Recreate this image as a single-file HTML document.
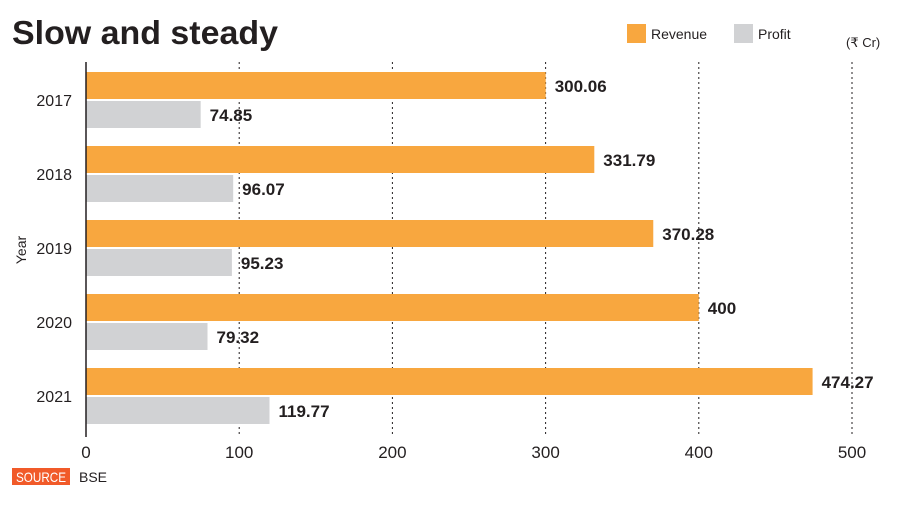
<!DOCTYPE html>
<html><head><meta charset="utf-8"><style>
body{margin:0;background:#fff;font-family:"Liberation Sans",sans-serif;}
svg text{font-family:"Liberation Sans",sans-serif;}
</style></head><body>
<svg width="900" height="501" viewBox="0 0 900 501" xmlns="http://www.w3.org/2000/svg" id="chart">
<text x="12" y="44" font-size="33" font-weight="bold" fill="#231f20" textLength="266" lengthAdjust="spacingAndGlyphs">Slow and steady</text>
<g>
<rect x="627" y="24" width="19" height="19" fill="#f8a73f"/>
<text x="651" y="39" font-size="14" fill="#231f20">Revenue</text>
<rect x="734" y="24" width="19" height="19" fill="#d1d2d4"/>
<text x="758" y="39" font-size="14" fill="#231f20">Profit</text>
</g>
<text x="846" y="47" font-size="13" fill="#231f20">(₹ Cr)</text>
<g id="grid"></g><g id="bars"></g>
<line x1="86" y1="62" x2="86" y2="437" stroke="#231f20" stroke-width="1.5"/>
<text transform="translate(26,250) rotate(-90)" text-anchor="middle" font-size="14" fill="#231f20">Year</text>
<rect x="12" y="468" width="58" height="17" fill="#f15a29"/>
<text x="16" y="482" font-size="14" fill="#fff" textLength="50" lengthAdjust="spacingAndGlyphs">SOURCE</text>
<text x="79" y="482" font-size="14" fill="#231f20">BSE</text>
</svg>
<script>
const years=["2017","2018","2019","2020","2021"];
const revenue=[300.06,331.79,370.28,400,474.27];
const profit=[74.85,96.07,95.23,79.32,119.77];
const revLabels=["300.06","331.79","370.28","400","474.27"];
const profLabels=["74.85","96.07","95.23","79.32","119.77"];
const ticks=[0,100,200,300,400,500];
const NS="http://www.w3.org/2000/svg";
const x=v=>86+v*1.532;
const yg=i=>72+i*74;
function mk(t,a,p){const e=document.createElementNS(NS,t);for(const k in a)e.setAttribute(k,a[k]);p.appendChild(e);return e;}
const grid=document.getElementById('grid'),bars=document.getElementById('bars'),svg=document.getElementById('chart');
ticks.forEach(t=>{
 if(t>0){const l=mk('line',{x1:x(t),x2:x(t),y1:62,y2:437,stroke:'#231f20','stroke-width':1,'stroke-dasharray':'2,3'},grid);
 
 }
 const tx=mk('text',{x:x(t),y:458,'text-anchor':'middle','font-size':17,fill:'#231f20'},svg);
 tx.textContent=t;
 
 
});
years.forEach((yr,i)=>{
 const y0=yg(i);
 const r=mk('rect',{x:86,y:y0,width:x(revenue[i])-86,height:27,fill:'#f8a73f'},bars);
 
 
 const p=mk('rect',{x:86,y:y0+29,width:x(profit[i])-86,height:27,fill:'#d1d2d4'},bars);
 
 
 const rl=mk('text',{x:x(revenue[i])+9,y:y0+20,'font-size':17,'font-weight':'bold',fill:'#231f20'},bars);
 rl.textContent=revLabels[i];
 
 
 const pl=mk('text',{x:x(profit[i])+9,y:y0+49,'font-size':17,'font-weight':'bold',fill:'#231f20'},bars);
 pl.textContent=profLabels[i];
 
 
 const yl=mk('text',{x:72,y:y0+34,'text-anchor':'end','font-size':16,fill:'#231f20'},svg);
 yl.textContent=yr;
 
 
});
</script>
</body></html>
